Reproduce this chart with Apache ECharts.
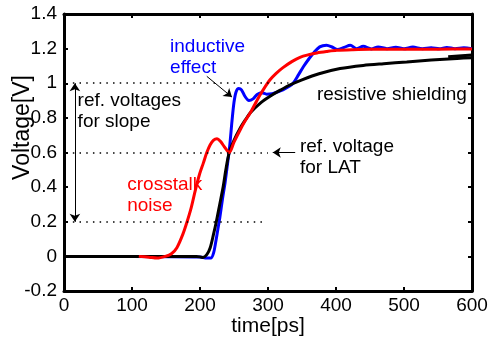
<!DOCTYPE html>
<html><head><meta charset="utf-8">
<script src="https://cdn.jsdelivr.net/npm/echarts@6/dist/echarts.min.js"></script>
<style>html,body{margin:0;padding:0;background:#fff}#c{width:488px;height:345px}</style>
</head><body><div id="c"></div>
<script>
const xTickLabels = ['0','100','200','300','400','500','600'];
const yTickLabels = ['-0.2','0','0.2','0.4','0.6','0.8','1','1.2','1.4'];

const resistive = [[0,0],[100,0],[195,0],[204,-0.006],[210,0.01],[215,0.05],[220,0.13],[224,0.2],[229,0.3],[234,0.4],[238,0.5],[243,0.6],[250,0.67],[259,0.74],[267,0.79],[274,0.83],[290,0.89],[303,0.925],[318,0.96],[332,0.99],[350,1.02],[375,1.055],[406,1.085],[440,1.103],[470,1.113],[504,1.123],[540,1.134],[578,1.143],[600,1.148]];
const resistive2 = [[565,1.153],[600,1.163]];
const inductive = [[0,0],[100,0],[200,-0.003],[210,-0.01],[216,-0.01],[220,0.02],[223,0.08],[226,0.15],[229,0.22],[233,0.33],[237,0.43],[241,0.55],[244,0.65],[247,0.78],[250,0.89],[253,0.95],[257,0.97],[261,0.962],[266,0.925],[272,0.9],[278,0.91],[284,0.935],[291,0.945],[298,0.937],[306,0.94],[314,0.95],[322,0.962],[330,0.98],[337,1.0],[345,1.05],[352,1.095],[360,1.14],[367,1.175],[376,1.21],[386,1.22],[395,1.208],[402,1.195],[412,1.207],[421,1.22],[430,1.2],[440,1.213],[452,1.198],[462,1.21],[475,1.2],[488,1.208],[500,1.199],[513,1.209],[527,1.2],[540,1.205],[552,1.199],[563,1.207],[575,1.2],[588,1.205],[600,1.2]];
const crosstalk = [[110,0],[125,-0.005],[137,-0.01],[149,0],[158,0.015],[166,0.05],[175,0.13],[181,0.2],[187,0.28],[193,0.38],[199,0.47],[205,0.54],[210,0.6],[215,0.645],[220,0.672],[225,0.68],[230,0.665],[236,0.632],[243,0.6],[250,0.66],[259,0.73],[266,0.78],[274,0.83],[281,0.88],[288,0.93],[295,0.975],[303,1.02],[312,1.057],[322,1.09],[335,1.125],[347,1.15],[360,1.165],[372,1.175],[386,1.183],[401,1.19],[425,1.194],[450,1.196],[500,1.196],[550,1.197],[600,1.198]];

const refLevels = [1.0, 0.6, 0.2];
const refStart = [13, 13, 13];
const refEnd = [330, 300, 298];

const annTexts = ['inductive\neffect', 'ref. voltages\nfor slope', 'resistive shielding', 'ref. voltage\nfor LAT', 'crosstalk\nnoise'];
const annX = [156, 20, 372, 347, 93];
const annY = [1.15, 0.84, 0.933, 0.572, 0.355];
const annColors = ['#0000ff', '#000000', '#000000', '#000000', '#ff0000'];

// arrows: [x1, y1, x2, y2] with head at second point
const arrows = [[210, 1.04, 247, 0.92], [340, 0.6, 307, 0.6]];
const dblArrow = [16, 0.2, 16, 1.0];

const font = "'Liberation Sans', Arial, Helvetica, sans-serif";
const chart = echarts.init(document.getElementById('c'), null, {renderer: 'canvas'});

const markData = refLevels.map((v, i) => [{coord: [refStart[i], v], symbol: 'none'}, {coord: [refEnd[i], v], symbol: 'none'}]);
const arrowData = arrows.map(a => [{coord: [a[0], a[1]], symbol: 'none'}, {coord: [a[2], a[3]], symbol: 'arrow'}]);
arrowData.push([{coord: [dblArrow[0], dblArrow[1]], symbol: 'arrow'}, {coord: [dblArrow[2], dblArrow[3]], symbol: 'arrow'}]);

const lineSeries = (data, color, w) => ({
  type: 'line', data, showSymbol: false, symbol: 'none', smooth: 0.3,
  lineStyle: {color, width: w}, silent: true, z: 3
});

chart.setOption({
  animation: false,
  grid: {left: 64, right: 16, top: 14, bottom: 54, containLabel: false, outerBoundsMode: 'none'},
  xAxis: [{
    type: 'value', min: 0, max: 600, interval: 100, position: 'bottom',
    axisLine: {show: true, onZero: false, lineStyle: {color: '#000', width: 3}},
    axisTick: {show: true, inside: true, length: 4, lineStyle: {color: '#000', width: 2}},
    axisLabel: {color: '#000', fontFamily: font, fontSize: 19, margin: 5, formatter: (v) => xTickLabels[Math.round(v / 100)]},
    splitLine: {show: false},
    name: 'time[ps]', nameLocation: 'middle', nameGap: 25, nameMoveOverlap: false,
    nameTextStyle: {color: '#000', fontFamily: font, fontSize: 21}
  }, {
    type: 'value', min: 0, max: 600, interval: 100, position: 'top',
    axisLine: {show: true, onZero: false, lineStyle: {color: '#000', width: 3}},
    axisTick: {show: true, inside: true, length: 4, lineStyle: {color: '#000', width: 2}},
    axisLabel: {show: false}, splitLine: {show: false}
  }],
  yAxis: [{
    type: 'value', min: -0.2, max: 1.4, interval: 0.2, position: 'left',
    axisLine: {show: true, onZero: false, lineStyle: {color: '#000', width: 3}},
    axisTick: {show: true, inside: true, length: 4, lineStyle: {color: '#000', width: 2}},
    axisLabel: {color: '#000', fontFamily: font, fontSize: 19, margin: 7, formatter: (v) => yTickLabels[Math.round((v + 0.2) / 0.2)]},
    splitLine: {show: false},
    name: 'Voltage[V]', nameLocation: 'middle', nameGap: 30, nameMoveOverlap: false,
    nameTextStyle: {color: '#000', fontFamily: font, fontSize: 23, padding: [0, 0, 0, 50]}
  }, {
    type: 'value', min: -0.2, max: 1.4, interval: 0.2, position: 'right',
    axisLine: {show: true, onZero: false, lineStyle: {color: '#000', width: 3}},
    axisTick: {show: true, inside: true, length: 4, lineStyle: {color: '#000', width: 2}},
    axisLabel: {show: false}, splitLine: {show: false}
  }],
  series: [
    {
      type: 'line', data: [], silent: true, z: 2,
      markLine: {silent: true, animation: false, symbol: 'none', label: {show: false},
        lineStyle: {color: '#000', width: 1.5, type: [1.5, 5.2]}, data: markData}
    },
    {
      type: 'line', data: [], silent: true, z: 2,
      markLine: {silent: true, animation: false, symbolSize: 8, label: {show: false},
        lineStyle: {color: '#000', width: 1, type: 'solid'}, data: arrowData}
    },
    lineSeries(inductive, '#0000ff', 3),
    lineSeries(resistive, '#000000', 3),
    lineSeries(resistive2, '#000000', 3),
    lineSeries(crosstalk, '#ff0000', 3),
    {
      type: 'scatter', symbolSize: 0, silent: true, z: 5,
      itemStyle: {opacity: 1},
      data: annTexts.map((t, i) => ({
        value: [annX[i], annY[i]],
        itemStyle: {opacity: 1},
        label: {show: true, position: 'right', distance: 0, formatter: t, color: annColors[i], opacity: 1,
          textBorderWidth: 0, fontFamily: font, fontSize: 19, lineHeight: 21, align: 'left', verticalAlign: 'middle'}
      }))
    }
  ]
});
</script></body></html>
